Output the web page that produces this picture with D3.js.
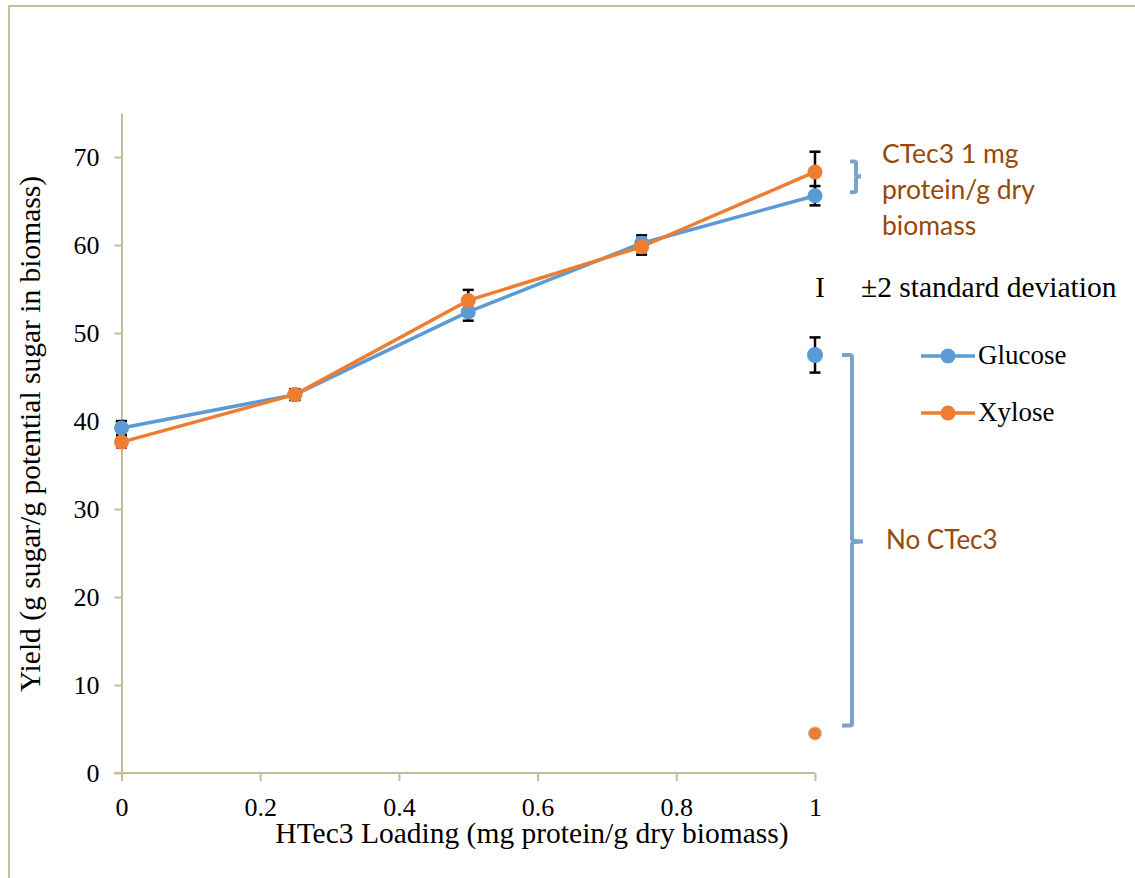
<!DOCTYPE html>
<html><head><meta charset="utf-8">
<script src="https://cdn.jsdelivr.net/npm/d3@7"></script>
<style>html,body{margin:0;padding:0;background:#fff;}svg{display:block;}</style>
</head><body>
<svg id="chart" width="1135" height="878"></svg>
<script>
// ---- data ----
const loadings = [0, 0.25, 0.5, 0.75, 1];
const glucose = [39.2, 43.0, 52.4, 60.2, 65.6];
const glucoseErr = [0.8, 0.6, 1.0, 0.9, 1.1];
const xylose = [37.6, 43.0, 53.7, 59.8, 68.3];
const xyloseErr = [0.6, 0.6, 1.2, 0.9, 2.3];
const noCtecLoading = [1];
const noCtecGlucose = [47.5];
const noCtecGlucoseErr = [2.0];
const noCtecXylose = [4.5];
const xTicks = [0, 0.2, 0.4, 0.6, 0.8, 1];
const yTicks = [0, 10, 20, 30, 40, 50, 60, 70];
const seriesNames = ["Glucose", "Xylose"];
const annotations = ["CTec3 1 mg", "protein/g dry", "biomass"];

const colors = {Glucose: "#5b9bd5", Xylose: "#ed7d31"};
const axisColor = "#c4bd97";
const braceColor = "#7aa3cc";
const noteColor = "#984807";
const serif = "Liberation Serif, Times New Roman, serif";
const sans = "Lato, Carlito, Open Sans, sans-serif";

const svg = d3.select("#chart");
svg.append("rect").attr("x", 9).attr("y", 6).attr("width", 1140).attr("height", 890)
  .attr("fill", "#fff").attr("stroke", axisColor).attr("stroke-width", 2);

const x = d3.scaleLinear().domain([0, 1]).range([121.5, 815]);
const y = d3.scaleLinear().domain([0, 75]).range([773, 113]);

// axes
const gx = svg.append("g").attr("transform", "translate(0,773)")
  .call(d3.axisBottom(x).tickValues(xTicks).tickSize(8).tickSizeOuter(0).tickFormat(d3.format("")));
const gy = svg.append("g").attr("transform", "translate(121.5,0)")
  .call(d3.axisLeft(y).tickValues(yTicks).tickSize(7).tickSizeOuter(0));
[gx, gy].forEach(g => {
  g.select(".domain").attr("stroke", axisColor).attr("stroke-width", 2);
  g.selectAll(".tick line").attr("stroke", axisColor).attr("stroke-width", 2);
  g.selectAll(".tick text").attr("fill", "#000").attr("font-family", serif).attr("font-size", 26);
});
gx.select(".domain").attr("d", "M114,0H815");
gx.selectAll(".tick text").attr("y", 25).attr("dy", "0.71em");
gy.selectAll(".tick text").attr("x", -22);

// axis titles
svg.append("text").attr("x", 532).attr("y", 843).attr("text-anchor", "middle")
  .attr("font-family", serif).attr("font-size", 29.5)
  .text("HTec3 Loading (mg protein/g dry biomass)");
svg.append("text").attr("transform", "translate(40,434) rotate(-90)").attr("text-anchor", "middle")
  .attr("font-family", serif).attr("font-size", 29.5)
  .text("Yield (g sugar/g potential sugar in biomass)");

// error bars
function errBars(xs, vals, errs) {
  const g = svg.append("g").attr("stroke", "#000").attr("stroke-width", 2.5);
  xs.forEach((xv, i) => {
    const cx = x(xv), lo = y(vals[i] - errs[i]), hi = y(vals[i] + errs[i]);
    g.append("line").attr("x1", cx).attr("x2", cx).attr("y1", lo).attr("y2", hi);
    g.append("line").attr("x1", cx - 5.5).attr("x2", cx + 5.5).attr("y1", lo).attr("y2", lo);
    g.append("line").attr("x1", cx - 5.5).attr("x2", cx + 5.5).attr("y1", hi).attr("y2", hi);
  });
}
errBars(loadings, glucose, glucoseErr);
errBars(loadings, xylose, xyloseErr);
errBars(noCtecLoading, noCtecGlucose, noCtecGlucoseErr);

// lines + markers
const line = d3.line().x(d => x(d[0])).y(d => y(d[1]));
[["Glucose", glucose], ["Xylose", xylose]].forEach(([name, vals]) => {
  const pts = loadings.map((l, i) => [l, vals[i]]);
  svg.append("path").datum(pts).attr("d", line).attr("fill", "none")
    .attr("stroke", colors[name]).attr("stroke-width", 3.5).attr("stroke-linejoin", "round");
  svg.selectAll(null).data(pts).join("circle").attr("cx", d => x(d[0])).attr("cy", d => y(d[1]))
    .attr("r", 7.5).attr("fill", colors[name]);
});
svg.selectAll(null).data(noCtecLoading.map((l, i) => [l, noCtecGlucose[i]])).join("circle")
  .attr("cx", d => x(d[0])).attr("cy", d => y(d[1])).attr("r", 8).attr("fill", colors.Glucose);
svg.selectAll(null).data(noCtecLoading.map((l, i) => [l, noCtecXylose[i]])).join("circle")
  .attr("cx", d => x(d[0])).attr("cy", d => y(d[1])).attr("r", 6.5).attr("fill", colors.Xylose)
  .attr("stroke", "#bbb").attr("stroke-width", 1);

// braces
function brace(x0, x1, yTop, yBot, yMid, xNub) {
  svg.append("path")
    .attr("d", `M${x0},${yTop} H${x1 - 2} Q${x1},${yTop} ${x1},${yTop + 2} V${yMid - 2} Q${x1},${yMid} ${xNub},${yMid} Q${x1},${yMid} ${x1},${yMid + 2} V${yBot - 2} Q${x1},${yBot} ${x1 - 2},${yBot} H${x0}`)
    .attr("fill", "none").attr("stroke", braceColor).attr("stroke-width", 4);
}
brace(850, 856, y(69.5), y(66.0), y(67.8), 861);
brace(842, 852, y(47.5), y(5.4), y(26.3), 863);

// annotations
const note = svg.append("text").attr("font-family", sans)
  .attr("font-size", 26.5).attr("fill", noteColor);
annotations.forEach((t, i) => note.append("tspan").attr("x", 882).attr("y", 163 + i * 36).text(t));
svg.append("text").attr("x", 886).attr("y", 549).attr("font-family", sans)
  .attr("font-size", 26).attr("fill", noteColor).text("No CTec3");

svg.append("text").attr("x", 820).attr("y", 297).attr("text-anchor", "middle")
  .attr("font-family", serif).attr("font-size", 29).text("I");
svg.append("text").attr("x", 861).attr("y", 297)
  .attr("font-family", serif).attr("font-size", 29.5).text("±2 standard deviation");

// legend
seriesNames.forEach((name, i) => {
  const ly = 356 + i * 57;
  svg.append("line").attr("x1", 921).attr("x2", 975).attr("y1", ly).attr("y2", ly)
    .attr("stroke", colors[name]).attr("stroke-width", 3.5);
  svg.append("circle").attr("cx", 948).attr("cy", ly).attr("r", 7.5).attr("fill", colors[name]);
  svg.append("text").attr("x", 978).attr("y", ly + 8).attr("font-family", serif)
    .attr("font-size", 27).text(name);
});
</script>
</body></html>
